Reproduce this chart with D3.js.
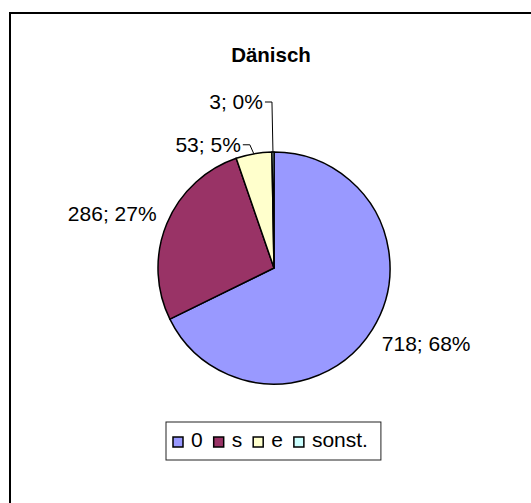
<!DOCTYPE html>
<html>
<head>
<meta charset="utf-8">
<script src="https://cdn.jsdelivr.net/npm/d3@7"></script>
<style>
  body { margin: 0; background: #fff; }
  text { font-family: "Liberation Sans", Arial, sans-serif; }
</style>
</head>
<body>
<div id="chart"></div>
<script>
const title = "Dänisch" ;
const categories = ["0", "s", "e", "sonst."] ;
const counts = [718, 286, 53, 3] ;
const colors = ["#9999FF", "#993366", "#FFFFCC", "#CCFFFF"] ;

const width = 531, height = 503 ;
const cx = 274, cy = 268, radius = 116 ;
const fontSize = 21 ;

const svg = d3.select("#chart").append("svg")
    .attr("width", width)
    .attr("height", height) ;

// chart area frame (runs off the right and bottom of the picture)
svg.append("rect")
    .attr("x", 10).attr("y", 13)
    .attr("width", 560).attr("height", 540)
    .attr("fill", "#fff")
    .attr("stroke", "#000")
    .attr("stroke-width", 2) ;

svg.append("text")
    .attr("x", 271).attr("y", 62)
    .attr("text-anchor", "middle")
    .attr("font-weight", "bold")
    .attr("font-size", 20.5)
    .text(title) ;

const total = d3.sum(counts) ;
const slices = d3.pie().sort(null).value(d => d)(counts) ;
const arc = d3.arc().innerRadius(0).outerRadius(radius) ;

const g = svg.append("g").attr("transform", `translate(${cx},${cy})`) ;

g.selectAll("path")
  .data(slices)
  .enter().append("path")
    .attr("d", arc)
    .attr("fill", (d, i) => colors[i])
    .attr("stroke", "#000")
    .attr("stroke-width", 1.5)
    .attr("stroke-linejoin", "round") ;

// data labels: "count; percent"
function labelText(d) {
  return d.data + "; " + Math.round(100 * d.data / total) + "%" ;
}
// how far above the slice edge small labels get lifted (with a leader line)
const lift = [0, 0, 9, 50] ;

slices.forEach((d, i) => {
  const a = (d.startAngle + d.endAngle) / 2 ;
  const sx = Math.sin(a), sy = -Math.cos(a) ;
  if (lift[i] === 0) {
    const r = radius + 11 ;
    const px = sx * r, py = sy * r ;
    g.append("text")
      .attr("x", px)
      .attr("y", sy > 0 ? py + 16 : py + 1)
      .attr("text-anchor", sx > 0 ? "start" : "end")
      .attr("font-size", fontSize)
      .text(labelText(d)) ;
  } else {
    const ex = sx * radius, ey = sy * radius ;
    const ly = ey - lift[i] ;
    const kx = ex - (lift[i] < 20 ? 4 : 1) ;
    g.append("path")
      .attr("d", `M${ex},${ey}L${kx},${ly}L${kx - 7},${ly}`)
      .attr("fill", "none")
      .attr("stroke", "#000")
      .attr("stroke-width", 1) ;
    g.append("text")
      .attr("x", kx - 9)
      .attr("y", ly + 7)
      .attr("text-anchor", "end")
      .attr("font-size", fontSize)
      .text(labelText(d)) ;
  }
}) ;

// legend
const legend = svg.append("g") ;
const box = legend.append("rect")
    .attr("x", 166).attr("y", 422)
    .attr("height", 38)
    .attr("fill", "#fff")
    .attr("stroke", "#222")
    .attr("stroke-width", 1) ;
let lx = 173 ;
categories.forEach((c, i) => {
  legend.append("rect")
    .attr("x", lx).attr("y", 437)
    .attr("width", 10).attr("height", 10)
    .attr("fill", colors[i])
    .attr("stroke", "#000")
    .attr("stroke-width", 1.5) ;
  const t = legend.append("text")
    .attr("x", lx + 18).attr("y", 447)
    .attr("font-size", fontSize)
    .text(c) ;
  lx += 18 + t.node().getComputedTextLength() + 11 ;
}) ;
box.attr("width", lx - 166 + 2) ;
</script>
</body>
</html>
